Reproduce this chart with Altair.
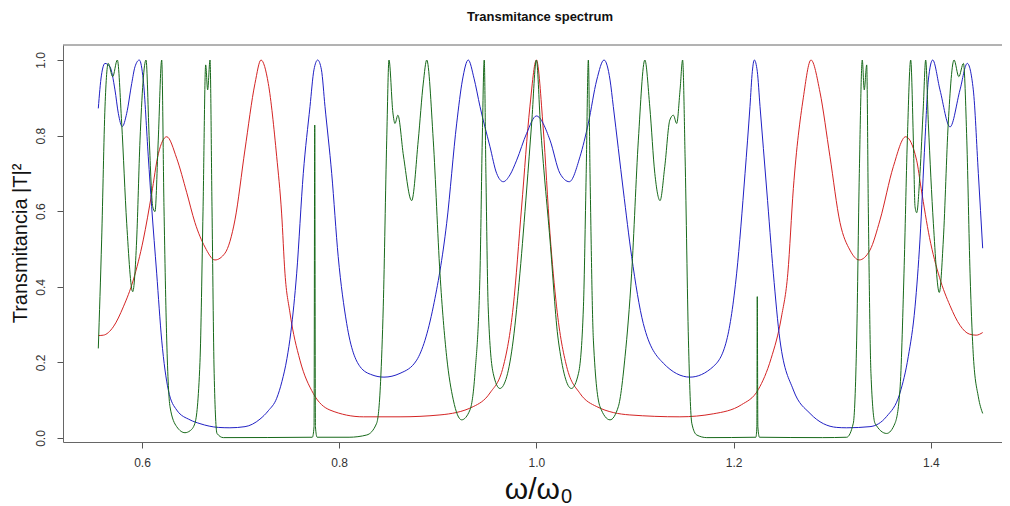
import altair as alt
import pandas as pd

# ---- data ----
red_x = [0.5557, 0.5608, 0.5709, 0.5811, 0.5912, 0.6013, 0.6098, 0.6166, 0.6251, 0.6352,
         0.6453, 0.6537, 0.6639, 0.6740, 0.6842, 0.6943, 0.7044, 0.7146, 0.7207, 0.7281,
         0.7366, 0.7416, 0.7450, 0.7501, 0.7602, 0.7737, 0.7906, 0.8245, 0.8617, 0.9022,
         0.9360, 0.9529, 0.9664, 0.9765, 0.9850, 0.9934, 1.0000, 1.0069, 1.0138, 1.0205,
         1.0307, 1.0442, 1.0612, 1.0947, 1.1455, 1.1794, 1.2080, 1.2250, 1.2380, 1.2485,
         1.2550, 1.2606, 1.2707, 1.2785, 1.2876, 1.2977, 1.3079, 1.3180, 1.3273, 1.3383,
         1.3485, 1.3620, 1.3745, 1.3856, 1.3902, 1.3987, 1.4088, 1.4195, 1.4296, 1.4390,
         1.4460, 1.4526]
red_y = [0.271, 0.272, 0.294, 0.347, 0.418, 0.524, 0.646, 0.752, 0.797, 0.740,
         0.650, 0.570, 0.505, 0.471, 0.489, 0.577, 0.762, 0.938, 1.000, 0.938,
         0.745, 0.595, 0.436, 0.331, 0.206, 0.118, 0.074, 0.056, 0.056, 0.061,
         0.083, 0.119, 0.189, 0.347, 0.611, 0.876, 1.000, 0.820, 0.540, 0.347,
         0.189, 0.118, 0.083, 0.061, 0.056, 0.064, 0.088, 0.128, 0.210, 0.320,
         0.436, 0.660, 0.900, 1.000, 0.915, 0.745, 0.570, 0.497, 0.471, 0.497,
         0.577, 0.718, 0.797, 0.735, 0.660, 0.530, 0.425, 0.350, 0.298, 0.275,
         0.272, 0.279]

blue_x = [0.5557, 0.5589, 0.5625, 0.5675, 0.5726, 0.5760, 0.5800, 0.5845, 0.5896, 0.5929,
          0.5973, 0.6013, 0.6064, 0.6098, 0.6149, 0.6200, 0.6267, 0.6352, 0.6487, 0.6588,
          0.6774, 0.6892, 0.7045, 0.7197, 0.7281, 0.7366, 0.7420, 0.7470, 0.7510, 0.7569,
          0.7636, 0.7704, 0.7744, 0.7782, 0.7820, 0.7856, 0.7924, 0.7990, 0.8076, 0.8211,
          0.8333, 0.8454, 0.8617, 0.8786, 0.8954, 0.9090, 0.9192, 0.9250, 0.9309, 0.9367,
          0.9428, 0.9529, 0.9597, 0.9664, 0.9732, 0.9800, 0.9901, 1.0000, 1.0138, 1.0239,
          1.0334, 1.0442, 1.0527, 1.0612, 1.0686, 1.0747, 1.0780, 1.0881, 1.0966, 1.1084,
          1.1287, 1.1558, 1.1794, 1.1930, 1.2031, 1.2116, 1.2166, 1.2190, 1.2210, 1.2240,
          1.2268, 1.2336, 1.2403, 1.2470, 1.2606, 1.2775, 1.3046, 1.3147, 1.3383, 1.3552,
          1.3687, 1.3772, 1.3840, 1.3890, 1.3941, 1.3975, 1.4019, 1.4093, 1.4195, 1.4296,
          1.4370, 1.4431, 1.4482, 1.4526]
blue_y = [0.872, 0.960, 0.991, 0.982, 0.921, 0.859, 0.824, 0.859, 0.938, 0.982,
          1.000, 0.947, 0.744, 0.612, 0.436, 0.259, 0.127, 0.074, 0.048, 0.038,
          0.028, 0.027, 0.030, 0.050, 0.072, 0.105, 0.150, 0.210, 0.280, 0.436,
          0.700, 0.877, 0.974, 1.000, 0.974, 0.877, 0.700, 0.480, 0.303, 0.189,
          0.167, 0.161, 0.171, 0.206, 0.347, 0.568, 0.833, 0.947, 1.000, 0.952,
          0.877, 0.771, 0.700, 0.678, 0.696, 0.735, 0.806, 0.852, 0.788, 0.700,
          0.678, 0.744, 0.833, 0.947, 1.000, 0.947, 0.877, 0.656, 0.480, 0.303,
          0.198, 0.161, 0.189, 0.259, 0.436, 0.700, 0.877, 0.970, 1.000, 0.970,
          0.877, 0.656, 0.436, 0.259, 0.127, 0.065, 0.028, 0.027, 0.030, 0.057,
          0.119, 0.216, 0.347, 0.524, 0.788, 0.947, 1.000, 0.921, 0.823, 0.921,
          0.991, 0.921, 0.700, 0.502]

green_x = [0.5557, 0.5591, 0.5625, 0.5658, 0.5703, 0.5750, 0.5794, 0.5845, 0.5906, 0.5946,
           0.5980, 0.6041, 0.6074, 0.6109, 0.6132, 0.6165, 0.6200, 0.6223, 0.6251, 0.6284,
           0.6352, 0.6436, 0.6487, 0.6537, 0.6588, 0.6619, 0.6646, 0.6666, 0.6690, 0.6710,
           0.6732, 0.6761, 0.6825, 0.7728, 0.7745, 0.7752, 0.7759, 0.7776, 0.8100, 0.8280,
           0.8380, 0.8420, 0.8447, 0.8482, 0.8505, 0.8545, 0.8566, 0.8595, 0.8652, 0.8735,
           0.8802, 0.8853, 0.8888, 0.8954, 0.9022, 0.9090, 0.9157, 0.9242, 0.9326, 0.9377,
           0.9428, 0.9451, 0.9471, 0.9488, 0.9511, 0.9562, 0.9630, 0.9699, 0.9765, 0.9833,
           0.9901, 0.9952, 1.0000, 1.0040, 1.0138, 1.0222, 1.0355, 1.0427, 1.0477, 1.0505,
           1.0527, 1.0544, 1.0578, 1.0645, 1.0747, 1.0831, 1.0899, 1.0966, 1.1034, 1.1100,
           1.1150, 1.1201, 1.1254, 1.1302, 1.1353, 1.1389, 1.1423, 1.1457, 1.1483, 1.1508,
           1.1542, 1.1576, 1.1626, 1.1728, 1.2226, 1.2236, 1.2240, 1.2246, 1.2262, 1.2900,
           1.3147, 1.3214, 1.3248, 1.3275, 1.3305, 1.3325, 1.3350, 1.3366, 1.3393, 1.3434,
           1.3552, 1.3637, 1.3687, 1.3728, 1.3762, 1.3796, 1.3823, 1.3840, 1.3857, 1.3890,
           1.3924, 1.3948, 1.3975, 1.4026, 1.4086, 1.4127, 1.4177, 1.4236, 1.4284, 1.4331,
           1.4365, 1.4398, 1.4432, 1.4482, 1.4526]
green_y = [0.237, 0.524, 0.876, 0.991, 0.956, 1.000, 0.833, 0.568, 0.387, 0.524,
           0.788, 1.000, 0.788, 0.612, 0.599, 0.788, 1.000, 0.612, 0.259, 0.083,
           0.030, 0.014, 0.019, 0.039, 0.200, 0.600, 0.987, 0.921, 1.000, 0.612,
           0.171, 0.012, 0.001, 0.002, 0.030, 0.828, 0.030, 0.002, 0.002, 0.008,
           0.039, 0.150, 0.347, 0.788, 1.000, 0.860, 0.832, 0.854, 0.746, 0.628,
           0.788, 0.939, 1.000, 0.788, 0.436, 0.215, 0.101, 0.048, 0.074, 0.171,
           0.436, 0.788, 1.000, 0.700, 0.347, 0.171, 0.131, 0.162, 0.259, 0.436,
           0.656, 0.833, 1.000, 0.833, 0.524, 0.259, 0.131, 0.171, 0.347, 0.700,
           1.000, 0.700, 0.259, 0.083, 0.048, 0.083, 0.215, 0.436, 0.788, 1.000,
           0.876, 0.700, 0.628, 0.718, 0.841, 0.854, 0.832, 0.921, 1.000, 0.744,
           0.259, 0.039, 0.008, 0.001, 0.002, 0.030, 0.374, 0.030, 0.002, 0.001,
           0.002, 0.039, 0.259, 0.700, 1.000, 0.921, 0.987, 0.612, 0.171, 0.039,
           0.012, 0.039, 0.127, 0.436, 0.788, 1.000, 0.788, 0.612, 0.596, 0.700,
           0.876, 1.000, 0.833, 0.568, 0.385, 0.524, 0.833, 1.000, 0.956, 0.991,
           0.788, 0.436, 0.215, 0.109, 0.065]

x_ticks = [0.6, 0.8, 1.0, 1.2, 1.4]
y_ticks = [0.0, 0.2, 0.4, 0.6, 0.8, 1.0]
title_text = "Transmitance spectrum"
ylab_text = "Transmitancia |T|²"
xlab_main = "ω/ω"
xlab_sub = "0"

# ---- layout ----
W, H = 939, 397
XDOM = [0.5199, 1.4722]
YDOM = [-0.0106, 1.0397]
FONT = "Liberation Sans"

xscale = alt.Scale(domain=XDOM, nice=False, zero=False)
yscale = alt.Scale(domain=YDOM, nice=False, zero=False)

xaxis = alt.Axis(values=x_ticks, format=".1f", grid=False, tickSize=6, labelPadding=9,
                 labelFontSize=12, labelFont=FONT, labelColor="#333333", domainColor="#666666",
                 tickColor="#555555", title=None, labelFlush=False)
yaxis = alt.Axis(values=y_ticks, format=".1f", grid=False, tickSize=6, labelPadding=10,
                 labelFontSize=12, labelFont=FONT, labelColor="#333333", domainColor="#666666",
                 tickColor="#555555", title=None, labelAngle=270, labelAlign="center",
                 labelBaseline="bottom", labelFlush=False)


def curve(xs, ys, color):
    df = pd.DataFrame({"x": xs, "y": ys})
    return alt.Chart(df).mark_line(color=color, strokeWidth=1, interpolate="monotone").encode(
        x=alt.X("x:Q", scale=xscale, axis=xaxis),
        y=alt.Y("y:Q", scale=yscale, axis=yaxis),
    )


red = curve(red_x, red_y, "#d42424")
blue = curve(blue_x, blue_y, "#2020c4")
green = curve(green_x, green_y, "#17691a")

top_rule = alt.Chart(pd.DataFrame({"a": [0]})).mark_rule(color="#666666", strokeWidth=1).encode(
    x=alt.value(0), x2=alt.value(W + 20), y=alt.value(0)
)

title = alt.Chart(pd.DataFrame({"t": [title_text]})).mark_text(
    font=FONT, fontSize=13, fontWeight="bold", color="#111111", align="center", baseline="middle"
).encode(x=alt.value(477), y=alt.value(-28), text="t:N")

ylab = alt.Chart(pd.DataFrame({"t": [ylab_text]})).mark_text(
    font=FONT, fontSize=20, color="#111111", align="center", baseline="middle", angle=270
).encode(x=alt.value(-42), y=alt.value(H / 2), text="t:N")

xlab1 = alt.Chart(pd.DataFrame({"t": [xlab_main]})).mark_text(
    font=FONT, fontSize=30, color="#111111", align="right", baseline="alphabetic"
).encode(x=alt.value(497), y=alt.value(454), text="t:N")

xlab2 = alt.Chart(pd.DataFrame({"t": [xlab_sub]})).mark_text(
    font=FONT, fontSize=20, color="#111111", align="left", baseline="alphabetic"
).encode(x=alt.value(498), y=alt.value(458), text="t:N")

chart = alt.layer(red, blue, green, top_rule, title, ylab, xlab1, xlab2).properties(
    width=W, height=H,
    autosize=alt.AutoSizeParams(type="none"),
    padding={"left": 55, "top": 37, "right": 0, "bottom": 68},
).configure_view(strokeWidth=0)

chart.save("out.html", embed_options={"renderer": "svg", "actions": False})
